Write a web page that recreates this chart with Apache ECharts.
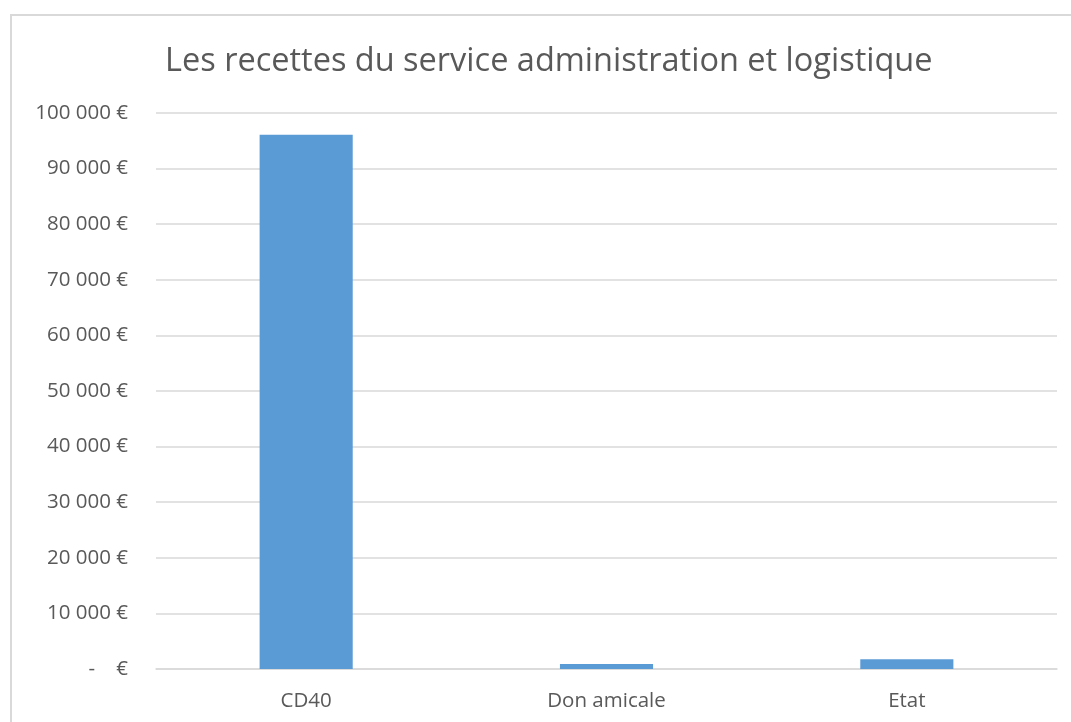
<!DOCTYPE html>
<html>
<head>
<meta charset="utf-8">
<script src="https://cdn.jsdelivr.net/npm/echarts@6/dist/echarts.min.js"></script>
<style>
  html, body { margin: 0; padding: 0; background: #fff; }
  #frame { position: absolute; left: 10px; top: 14px; width: 1071px; height: 722px;
           border-left: 2px solid #d9d9d9; border-top: 2px solid #d9d9d9; box-sizing: border-box; }
  #chart { position: absolute; left: 0; top: 0; width: 1071px; height: 722px; }
</style>
</head>
<body>
<div id="frame"></div>
<div id="chart"></div>
<script>
// Les recettes du service administration et logistique
const categories = ['CD40', 'Don amicale', 'Etat'];
const recettes = [96100, 900, 1750];
const yTicks = { min: 0, max: 100000, interval: 10000 };

function formatEuro(v) {
    if (v === 0) return '-    €';
    return String(v).replace(/\B(?=(\d{3})+(?!\d))/g, ' ') + ' €';
}

const chart = echarts.init(document.getElementById('chart'));
chart.setOption({
    animation: false,
    textStyle: { fontFamily: 'Open Sans' },
    title: {
        text: 'Les recettes du service administration et logistique',
        left: 160,
        top: 40,
        textStyle: { color: '#595959', fontSize: 32.5, fontWeight: 'normal', fontFamily: 'Open Sans' }
    },
    grid: { left: 156, right: 14, top: 113, bottom: 53 },
    xAxis: {
        type: 'category',
        data: categories,
        axisLine: { lineStyle: { color: '#d9d9d9', width: 1.5 } },
        axisTick: { show: false },
        axisLabel: { color: '#595959', fontSize: 20.5, margin: 22 }
    },
    yAxis: {
        type: 'value',
        min: yTicks.min,
        max: yTicks.max,
        interval: yTicks.interval,
        axisLine: { show: false },
        axisTick: { show: false },
        axisLabel: { color: '#595959', fontSize: 20.5, margin: 28, formatter: formatEuro },
        splitLine: { lineStyle: { color: '#d9d9d9', width: 1.5 } }
    },
    series: [{
        type: 'bar',
        data: recettes,
        barWidth: '31%',
        itemStyle: { color: '#5b9bd5' }
    }]
});
</script>
</body>
</html>
